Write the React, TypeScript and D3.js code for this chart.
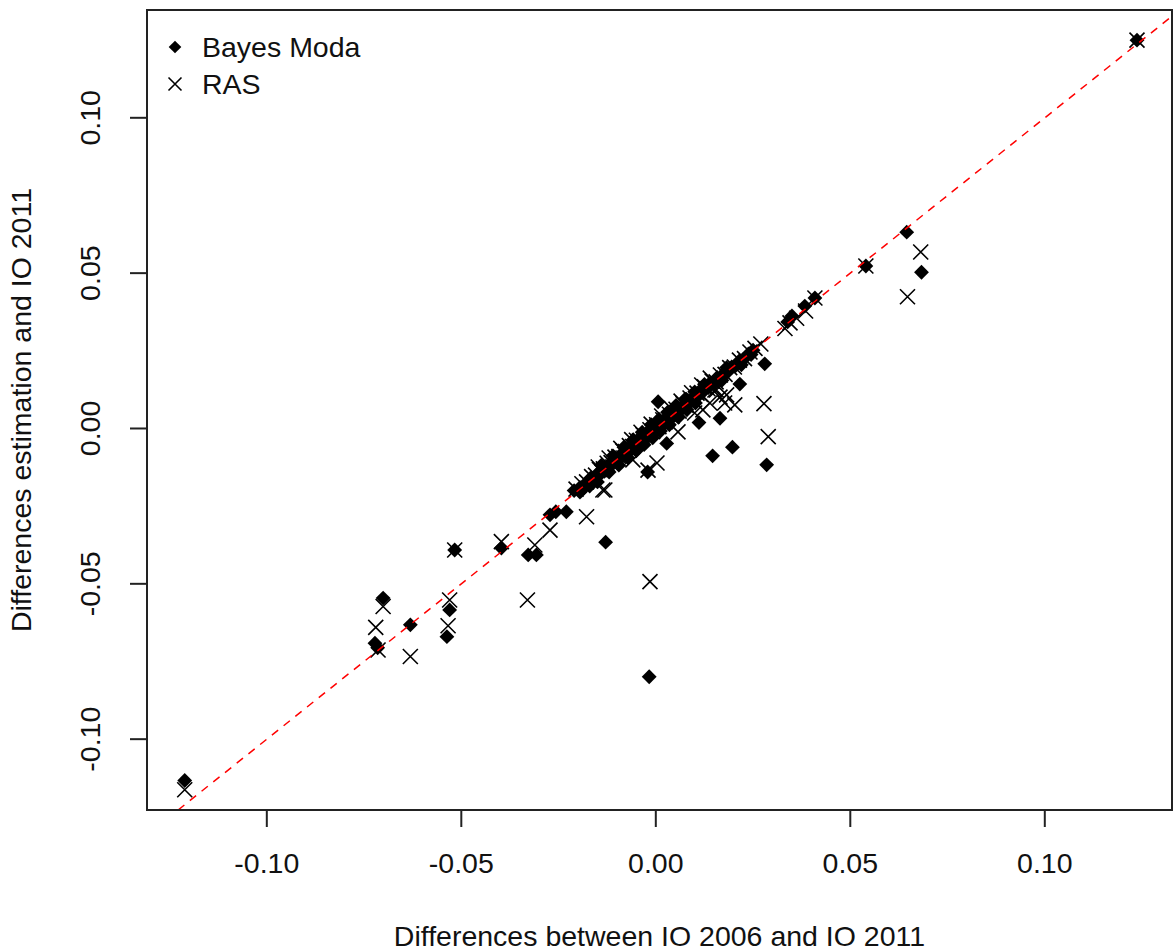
import React from 'react';
import * as d3 from 'd3';

// Bayes Moda (filled diamonds): [IO2006 - IO2011, estimation - IO2011]
const bayesModa: [number, number][] = [
  [0.1237, 0.1250], [0.0645, 0.0632], [0.0683, 0.0503], [0.0540, 0.0523],
  [0.0409, 0.0420], [0.0383, 0.0394], [0.0350, 0.0362], [0.0339, 0.0343],
  [0.0280, 0.0208], [0.0216, 0.0143], [0.0285, -0.0117], [0.0197, -0.0060],
  [0.0146, -0.0088], [0.0165, 0.0033], [0.0111, 0.0019], [0.0006, 0.0086],
  [0.0028, -0.0048], [-0.0021, -0.0140], [-0.0129, -0.0366], [-0.0017, -0.0799],
  [-0.0328, -0.0407], [-0.0307, -0.0407], [-0.0397, -0.0385], [-0.0517, -0.0391],
  [-0.0701, -0.0546], [-0.0722, -0.0691], [-0.0715, -0.0706], [-0.0631, -0.0632],
  [-0.0530, -0.0584], [-0.0537, -0.0670], [-0.0272, -0.0278], [-0.0257, -0.0268],
  [-0.0230, -0.0268], [-0.1211, -0.1133],
  [-0.0210, -0.0200], [-0.0195, -0.0190], [-0.0185, -0.0192], [-0.0175, -0.0170],
  [-0.0168, -0.0160], [-0.0160, -0.0165], [-0.0152, -0.0148], [-0.0145, -0.0150],
  [-0.0140, -0.0135], [-0.0132, -0.0138], [-0.0125, -0.0122], [-0.0118, -0.0115],
  [-0.0110, -0.0112], [-0.0104, -0.0100], [-0.0098, -0.0102], [-0.0092, -0.0088],
  [-0.0086, -0.0090], [-0.0080, -0.0076], [-0.0075, -0.0080], [-0.0070, -0.0066],
  [-0.0065, -0.0070], [-0.0060, -0.0056], [-0.0055, -0.0060], [-0.0050, -0.0045],
  [-0.0046, -0.0052], [-0.0040, -0.0036], [-0.0036, -0.0042], [-0.0030, -0.0026],
  [-0.0025, -0.0032], [-0.0020, -0.0015], [-0.0016, -0.0022], [-0.0010, -0.0006],
  [-0.0006, -0.0012], [0.0000, 0.0004], [0.0004, -0.0002], [0.0010, 0.0014],
  [0.0014, 0.0008], [0.0020, 0.0024], [0.0025, 0.0018], [0.0030, 0.0034],
  [0.0036, 0.0030], [0.0042, 0.0046], [0.0048, 0.0042], [0.0055, 0.0058],
  [0.0060, 0.0054], [0.0068, 0.0070], [0.0075, 0.0070], [0.0082, 0.0085],
  [0.0090, 0.0086], [0.0098, 0.0100], [0.0105, 0.0100], [0.0112, 0.0115],
  [0.0120, 0.0116], [0.0128, 0.0130], [0.0135, 0.0132], [0.0142, 0.0145],
  [0.0150, 0.0146], [0.0158, 0.0160], [0.0166, 0.0162], [0.0175, 0.0178],
  [0.0185, 0.0182], [0.0195, 0.0198], [0.0205, 0.0202], [0.0215, 0.0218],
  [0.0225, 0.0222], [0.0238, 0.0240], [0.0250, 0.0252],
  [-0.0150, -0.0172], [-0.0120, -0.0140], [-0.0095, -0.0118], [-0.0072, -0.0094],
  [-0.0050, -0.0072], [-0.0030, -0.0052], [-0.0008, -0.0030], [0.0012, -0.0008],
  [0.0035, 0.0012], [0.0058, 0.0036], [0.0080, 0.0060], [0.0102, 0.0082],
  [-0.0140, -0.0118], [-0.0110, -0.0088], [-0.0082, -0.0060], [-0.0058, -0.0036],
  [-0.0035, -0.0012], [-0.0012, 0.0012], [0.0008, 0.0030], [0.0030, 0.0052],
  [0.0052, 0.0074], [0.0075, 0.0094], [0.0100, 0.0118], [0.0125, 0.0142],
  [-0.0195, -0.0205], [-0.0170, -0.0185], [0.0170, 0.0155], [0.0220, 0.0205],
  [0.0245, 0.0238], [0.0182, 0.0196],
];

// RAS (crosses)
const ras: [number, number][] = [
  [0.1237, 0.1250], [0.0681, 0.0568], [0.0647, 0.0424], [0.0540, 0.0523],
  [0.0409, 0.0420], [0.0278, 0.0080], [0.0289, -0.0026], [0.0003, -0.0111],
  [-0.0020, -0.0134], [-0.0131, -0.0198], [-0.0178, -0.0284], [-0.0015, -0.0493],
  [-0.0330, -0.0552], [-0.0311, -0.0375], [-0.0397, -0.0364], [-0.0517, -0.0391],
  [-0.0701, -0.0573], [-0.0720, -0.0640], [-0.0714, -0.0713], [-0.0631, -0.0734],
  [-0.0530, -0.0552], [-0.0534, -0.0635], [-0.0272, -0.0327], [-0.1211, -0.1163],
  [0.0121, 0.0060], [0.0139, 0.0082], [0.0152, 0.0124], [0.0165, 0.0101],
  [0.0177, 0.0082], [0.0203, 0.0076], [0.0182, 0.0108], [0.0156, 0.0124],
  [0.0100, 0.0050], [0.0057, -0.0011], [-0.0136, -0.0198], [-0.0059, -0.0101],
  [0.0332, 0.0322], [0.0345, 0.0340], [0.0362, 0.0355], [0.0385, 0.0378],
  [-0.0205, -0.0195], [-0.0190, -0.0178], [-0.0178, -0.0172], [-0.0165, -0.0155],
  [-0.0155, -0.0150], [-0.0145, -0.0132], [-0.0135, -0.0130], [-0.0125, -0.0112],
  [-0.0115, -0.0110], [-0.0105, -0.0092], [-0.0095, -0.0090], [-0.0085, -0.0072],
  [-0.0078, -0.0074], [-0.0068, -0.0055], [-0.0060, -0.0058], [-0.0050, -0.0038],
  [-0.0042, -0.0040], [-0.0033, -0.0020], [-0.0025, -0.0024], [-0.0015, -0.0004],
  [-0.0008, -0.0010], [0.0002, 0.0012], [0.0008, 0.0006], [0.0018, 0.0028],
  [0.0025, 0.0022], [0.0035, 0.0046], [0.0042, 0.0040], [0.0052, 0.0062],
  [0.0060, 0.0056], [0.0070, 0.0080], [0.0078, 0.0074], [0.0088, 0.0098],
  [0.0096, 0.0092], [0.0106, 0.0114], [0.0115, 0.0110], [0.0125, 0.0134],
  [0.0134, 0.0128], [0.0145, 0.0152], [0.0155, 0.0150], [0.0166, 0.0172],
  [0.0178, 0.0174], [0.0190, 0.0196], [0.0202, 0.0198], [0.0215, 0.0220],
  [0.0228, 0.0225], [0.0242, 0.0246], [0.0255, 0.0258], [0.0270, 0.0272],
  [-0.0120, -0.0095], [-0.0090, -0.0064], [-0.0062, -0.0036], [-0.0038, -0.0012],
  [-0.0012, 0.0014], [0.0015, 0.0040], [0.0040, 0.0064], [0.0065, 0.0088],
  [0.0092, 0.0115], [0.0118, 0.0140], [0.0140, 0.0162], [-0.0148, -0.0124],
];

const xTicks = [-0.10, -0.05, 0.00, 0.05, 0.10];
const yTicks = [-0.10, -0.05, 0.00, 0.05, 0.10];
const seriesNames = ['Bayes Moda', 'RAS'];
const xTitle = 'Differences between IO 2006 and IO 2011';
const yTitle = 'Differences estimation and IO 2011';

const W = 1175, H = 952;
const left = 147, right = 1172, top = 10, bottom = 810;
const font = '"Liberation Sans", Arial, sans-serif';
const fs = 28.5;

const Cross = ({ x, y, r = 7.5 }: { x: number; y: number; r?: number }) => (
  <path d={`M${x - r},${y - r}L${x + r},${y + r}M${x - r},${y + r}L${x + r},${y - r}`}
        stroke="#000" strokeWidth={1.6} fill="none"/>
);

const diamond = d3.symbol().type(d3.symbolSquare).size(110);
const fmt = (t: number) => t.toFixed(2);

export default function App() {
  const x = d3.scaleLinear().domain([-0.1308, 0.1327]).range([left, right]);
  const y = d3.scaleLinear().domain([-0.1228, 0.1347]).range([bottom, top]);
  const lo = -0.1228, hi = 0.1347;
  return (
    <svg width={W} height={H} style={{ position: 'absolute', left: 0, top: 0, background: '#fff' }}
         fontFamily={font}>
      <defs>
        <clipPath id="plot"><rect x={left} y={top} width={right - left} height={bottom - top}/></clipPath>
      </defs>
      {bayesModa.map((d, i) => (
        <path key={'b' + i} d={diamond()!} transform={`translate(${x(d[0])},${y(d[1])}) rotate(45)`} fill="#000"/>
      ))}
      {ras.map((d, i) => <Cross key={'r' + i} x={x(d[0])} y={y(d[1])}/>)}
      <g clipPath="url(#plot)">
        <line x1={x(lo)} y1={y(lo)} x2={x(hi)} y2={y(hi)} stroke="#ff0000" strokeWidth={1.5}
              strokeDasharray="8,7"/>
      </g>
      <rect x={left} y={top} width={right - left} height={bottom - top} fill="none" stroke="#222" strokeWidth={2}/>
      {xTicks.map(t => (
        <g key={'x' + t}>
          <line x1={x(t)} x2={x(t)} y1={bottom} y2={bottom + 17} stroke="#222" strokeWidth={2}/>
          <text x={x(t)} y={873} textAnchor="middle" fontSize={fs} fill="#111">{fmt(t)}</text>
        </g>
      ))}
      {yTicks.map(t => (
        <g key={'y' + t}>
          <line x1={left - 17} x2={left} y1={y(t)} y2={y(t)} stroke="#222" strokeWidth={2}/>
          <text transform={`translate(100,${y(t)}) rotate(-90)`} textAnchor="middle" fontSize={fs} fill="#111">
            {fmt(t)}
          </text>
        </g>
      ))}
      <text x={(left + right) / 2} y={946} textAnchor="middle" fontSize={fs} fill="#111">{xTitle}</text>
      <text transform={`translate(31,${(top + bottom) / 2}) rotate(-90)`} textAnchor="middle" fontSize={fs} fill="#111">
        {yTitle}
      </text>
      <g>
        <path d={d3.symbol().type(d3.symbolSquare).size(80)()!} transform="translate(175,47) rotate(45)" fill="#000"/>
        <text x={202} y={57} fontSize={fs} fill="#111">{seriesNames[0]}</text>
        <Cross x={175} y={84} r={6.5}/>
        <text x={202} y={94} fontSize={fs} fill="#111">{seriesNames[1]}</text>
      </g>
    </svg>
  );
}
